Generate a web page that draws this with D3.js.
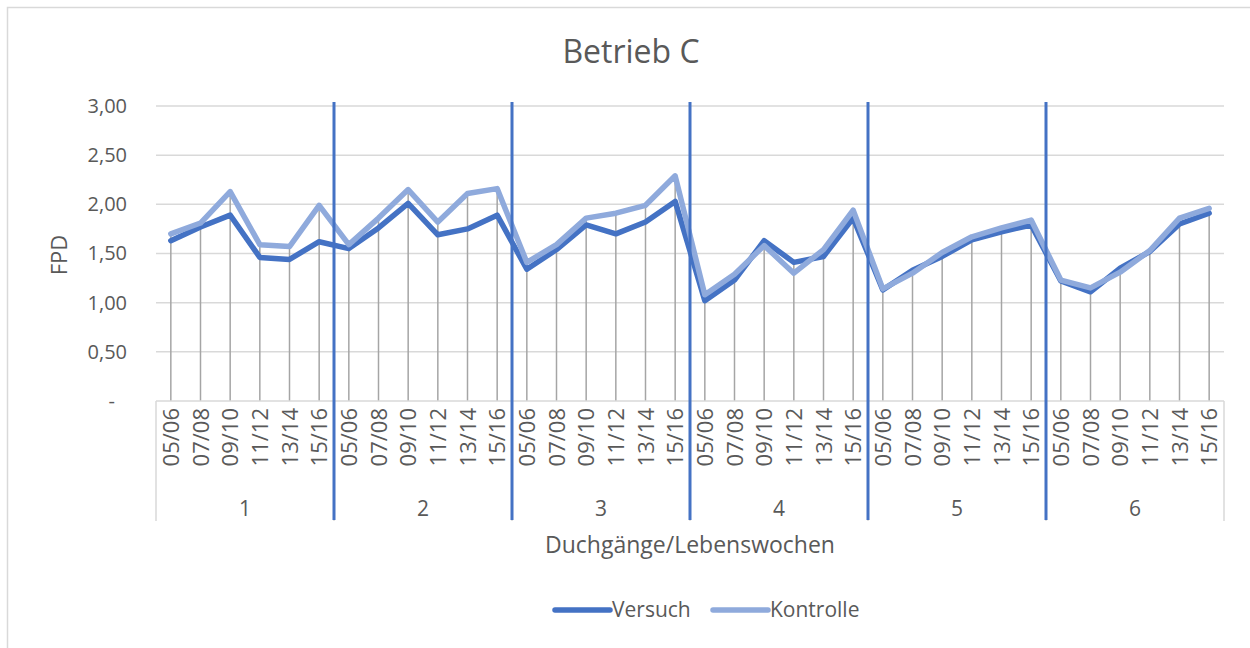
<!doctype html>
<html>
<head>
  <meta charset="UTF-8">
  <title>Betrieb C</title>
  <script src="https://cdn.jsdelivr.net/npm/d3@7"></script>
  <style>
    body { margin: 0; background: #fff; }
    text { font-family: "Open Sans", sans-serif; fill: #595959; }
  </style>
</head>
<body>
  <script>
    var durchgaenge = ["1", "2", "3", "4", "5", "6"];
    var wochen = ["05/06", "07/08", "09/10", "11/12", "13/14", "15/16"];
    var versuch = [
      1.63, 1.77, 1.89, 1.46, 1.44, 1.62,
      1.55, 1.76, 2.01, 1.69, 1.75, 1.89,
      1.34, 1.54, 1.79, 1.70, 1.82, 2.03,
      1.02, 1.23, 1.63, 1.41, 1.47, 1.86,
      1.13, 1.33, 1.47, 1.64, 1.72, 1.79,
      1.22, 1.11, 1.35, 1.52, 1.80, 1.91
    ];
    var kontrolle = [
      1.70, 1.81, 2.13, 1.59, 1.57, 1.99,
      1.59, 1.86, 2.15, 1.82, 2.11, 2.16,
      1.41, 1.59, 1.86, 1.91, 1.99, 2.29,
      1.08, 1.29, 1.58, 1.30, 1.54, 1.94,
      1.14, 1.30, 1.51, 1.67, 1.76, 1.84,
      1.23, 1.15, 1.31, 1.53, 1.86, 1.96
    ];
    var yTicks = [0, 0.5, 1, 1.5, 2, 2.5, 3];

    var w = 1250, h = 648;
    var plotLeft = 156, plotRight = 1224, plotTop = 106, axisY = 401;

    var svg = d3.select("body").append("svg")
      .attr("width", w)
      .attr("height", h);

    // chart border
    svg.append("rect")
      .attr("x", 7.5).attr("y", 7.5)
      .attr("width", w).attr("height", h)
      .attr("fill", "none")
      .attr("stroke", "#d9d9d9")
      .attr("stroke-width", 1.5);

    var idx = d3.range(versuch.length);
    var x = d3.scaleBand().domain(idx).range([plotLeft, plotRight]).padding(0);
    var cx = function(i) { return x(i) + x.bandwidth() / 2; };
    var y = d3.scaleLinear().domain([0, 3]).range([axisY, plotTop]);

    // title
    svg.append("text")
      .attr("x", 631).attr("y", 63)
      .attr("text-anchor", "middle")
      .style("font-size", "32px")
      .text("Betrieb C");

    // gridlines
    svg.append("g").selectAll("line")
      .data(yTicks.filter(function(d) { return d > 0; }))
      .enter().append("line")
      .attr("x1", plotLeft).attr("x2", plotRight)
      .attr("y1", function(d) { return y(d); })
      .attr("y2", function(d) { return y(d); })
      .attr("stroke", "#d9d9d9")
      .attr("stroke-width", 1.5);

    // y axis
    var yAxis = svg.append("g")
      .attr("transform", "translate(130,0)")
      .call(d3.axisLeft(y).tickValues(yTicks).tickSize(0)
        .tickFormat(function(d) { return d === 0 ? "-" : d3.format(".2f")(d).replace(".", ","); }));
    yAxis.select(".domain").remove();
    yAxis.selectAll("text")
      .style("font-size", "20px")
      .style("font-family", "Open Sans, sans-serif")
      .attr("fill", "#595959")
      .attr("dx", function(d) { return d === 0 ? -12 : 0; });

    svg.append("text")
      .attr("transform", "translate(67,255) rotate(-90)")
      .attr("text-anchor", "middle")
      .style("font-size", "22px")
      .text("FPD");

    // drop lines
    svg.append("g").selectAll("line")
      .data(idx)
      .enter().append("line")
      .attr("x1", cx).attr("x2", cx)
      .attr("y1", function(i) { return y(Math.max(versuch[i], kontrolle[i])); })
      .attr("y2", axisY)
      .attr("stroke", "#a5a5a5")
      .attr("stroke-width", 1.5);

    // category axis box
    svg.append("line")
      .attr("x1", plotLeft).attr("x2", plotRight)
      .attr("y1", axisY).attr("y2", axisY)
      .attr("stroke", "#d9d9d9").attr("stroke-width", 1.5);
    var bounds = d3.range(durchgaenge.length + 1).map(function(g) {
      return g < durchgaenge.length ? x(g * wochen.length) : plotRight;
    });
    svg.append("g").selectAll("line")
      .data(bounds)
      .enter().append("line")
      .attr("x1", function(d) { return d; }).attr("x2", function(d) { return d; })
      .attr("y1", axisY).attr("y2", 521)
      .attr("stroke", "#d9d9d9").attr("stroke-width", 1.5);

    // week labels
    svg.append("g").selectAll("text")
      .data(idx)
      .enter().append("text")
      .attr("transform", function(i) { return "translate(" + (cx(i) + 8) + ",408) rotate(-90)"; })
      .attr("text-anchor", "end")
      .style("font-size", "22px")
      .text(function(i) { return wochen[i % wochen.length]; });

    // group labels
    svg.append("g").selectAll("text")
      .data(durchgaenge)
      .enter().append("text")
      .attr("x", function(d, g) { return (bounds[g] + bounds[g + 1]) / 2; })
      .attr("y", 516)
      .attr("text-anchor", "middle")
      .style("font-size", "21px")
      .text(function(d) { return d; });

    svg.append("text")
      .attr("x", 690).attr("y", 553)
      .attr("text-anchor", "middle")
      .style("font-size", "23px")
      .text("Duchgänge/Lebenswochen");

    // series lines
    var line = d3.line()
      .x(function(d, i) { return cx(i); })
      .y(function(d) { return y(d); });
    var series = [
      { name: "Versuch", values: versuch, color: "#4472c4" },
      { name: "Kontrolle", values: kontrolle, color: "#8faadc" }
    ];
    svg.append("g").selectAll("path")
      .data(series)
      .enter().append("path")
      .attr("d", function(s) { return line(s.values); })
      .attr("fill", "none")
      .attr("stroke", function(s) { return s.color; })
      .attr("stroke-width", 5.5)
      .attr("stroke-linejoin", "round")
      .attr("stroke-linecap", "round");

    // separator lines between Durchgänge
    svg.append("g").selectAll("line")
      .data(bounds.slice(1, -1))
      .enter().append("line")
      .attr("x1", function(d) { return d; }).attr("x2", function(d) { return d; })
      .attr("y1", 102).attr("y2", 520)
      .attr("stroke", "#4472c4")
      .attr("stroke-width", 3);

    // legend
    var legend = svg.append("g").selectAll("g")
      .data(series)
      .enter().append("g")
      .attr("transform", function(s, i) { return "translate(" + (555 + i * 158) + ",610)"; });
    legend.append("line")
      .attr("x1", 0).attr("x2", 55)
      .attr("stroke", function(s) { return s.color; })
      .attr("stroke-width", 5.5)
      .attr("stroke-linecap", "round");
    legend.append("text")
      .attr("x", 57).attr("y", 7)
      .style("font-size", "21px")
      .text(function(s) { return s.name; });
  </script>
</body>
</html>
